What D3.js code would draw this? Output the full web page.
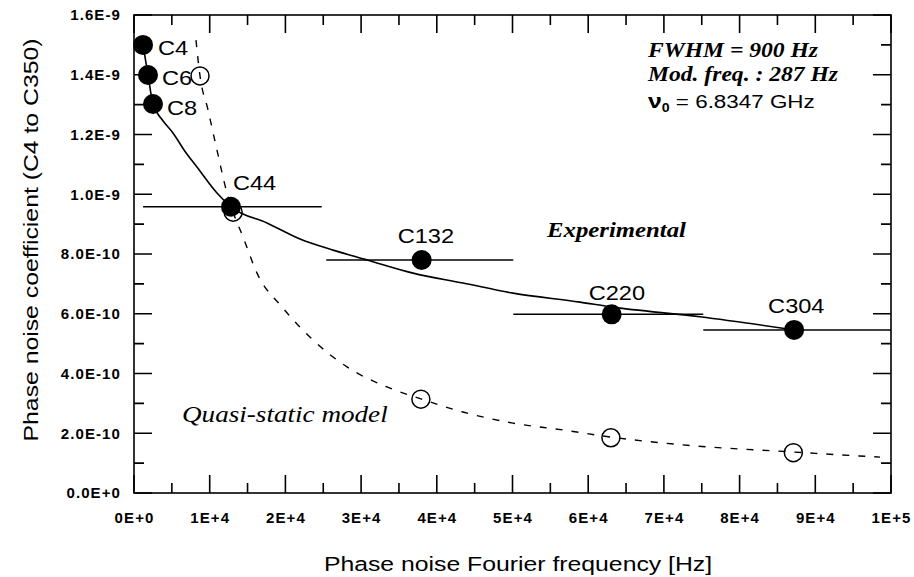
<!DOCTYPE html>
<html>
<head>
<meta charset="utf-8">
<script src="https://cdn.jsdelivr.net/npm/d3@7"></script>
<style>
  body { margin: 0; background: #fff; }
</style>
</head>
<body>
<div class="curr-graff"></div>
<script>
// experimental points (filled)
const expLabels = ["C4", "C6", "C8", "C44", "C132", "C220", "C304"];
const expX = [1190, 1850, 2510, 12810, 38000, 63100, 87200];
const expY = [1.500e-9, 1.399e-9, 1.302e-9, 0.958e-9, 0.780e-9, 0.598e-9, 0.546e-9];
const errLow = [null, null, null, 1200, 25400, 50100, 75200];
const errHigh = [null, null, null, 24800, 50100, 75200, 100000];

// quasi-static model points (open)
const modelX = [8720, 13100, 37900, 63000, 87100];
const modelY = [1.396e-9, 0.940e-9, 0.314e-9, 0.185e-9, 0.135e-9];

// fitted curve through experimental points (solid)
const fitX = [1190, 1850, 2510, 3700, 5150, 6700, 8320, 10960, 12810, 17570, 21930, 26290, 30780, 36860, 43460, 50070, 58920, 63010, 74770, 87190];
const fitY = [1.500e-9, 1.399e-9, 1.302e-9, 1.250e-9, 1.205e-9, 1.145e-9, 1.091e-9, 1.004e-9, 0.958e-9, 0.904e-9, 0.850e-9, 0.813e-9, 0.780e-9, 0.736e-9, 0.703e-9, 0.669e-9, 0.639e-9, 0.623e-9, 0.590e-9, 0.546e-9];

// quasi-static model curve (dashed)
const quasiX = [8190, 8720, 9780, 10960, 12290, 13080, 14400, 16250, 19680, 23650, 28140, 33420, 37910, 43460, 50070, 56670, 63010, 72520, 87190, 98550];
const quasiY = [1.516e-9, 1.396e-9, 1.282e-9, 1.148e-9, 1.004e-9, 0.941e-9, 0.857e-9, 0.736e-9, 0.619e-9, 0.512e-9, 0.422e-9, 0.355e-9, 0.315e-9, 0.271e-9, 0.234e-9, 0.211e-9, 0.187e-9, 0.161e-9, 0.137e-9, 0.120e-9];

// axis ticks
const xTicks = [0, 10000, 20000, 30000, 40000, 50000, 60000, 70000, 80000, 90000, 100000];
const xTickLabels = ["0E+0", "1E+4", "2E+4", "3E+4", "4E+4", "5E+4", "6E+4", "7E+4", "8E+4", "9E+4", "1E+5"];
const xMinor = [5000, 15000, 25000, 35000, 45000, 55000, 65000, 75000, 85000, 95000];
const yTicks = [0, 2e-10, 4e-10, 6e-10, 8e-10, 1.0e-9, 1.2e-9, 1.4e-9, 1.6e-9];
const yTickLabels = ["0.0E+0", "2.0E-10", "4.0E-10", "6.0E-10", "8.0E-10", "1.0E-9", "1.2E-9", "1.4E-9", "1.6E-9"];
const yMinor = [1e-10, 3e-10, 5e-10, 7e-10, 9e-10, 1.1e-9, 1.3e-9, 1.5e-9];

const width = 914, height = 577;
const mLeft = 134, mRight = 891, mTop = 15, mBottom = 493;
const sansFont = '"Liberation Sans", Arial, sans-serif';
const serifFont = '"Liberation Serif", "Times New Roman", serif';
const stretch = 1.18;

var svg = d3.select(".curr-graff")
    .append("svg")
    .attr("width", width)
    .attr("height", height)
    .style("display", "block");

svg.append("rect").attr("width", width).attr("height", height).attr("fill", "#fff");

var xScale = d3.scaleLinear().domain([0, 100000]).range([mLeft, mRight]);
var yScale = d3.scaleLinear().domain([0, 1.6e-9]).range([mBottom, mTop]);

// tick labels from d3 axes
var xAxisG = svg.append("g")
    .attr("transform", "translate(0," + mBottom + ")")
    .call(d3.axisBottom(xScale).tickValues(xTicks).tickSize(0).tickPadding(19)
        .tickFormat((d, i) => xTickLabels[i]));
var yAxisG = svg.append("g")
    .attr("transform", "translate(" + mLeft + ",0)")
    .call(d3.axisLeft(yScale).tickValues(yTicks).tickSize(0).tickPadding(13)
        .tickFormat((d, i) => yTickLabels[i]));

[xAxisG, yAxisG].forEach(g => {
    g.select(".domain").remove();
    g.selectAll(".tick line").remove();
    g.selectAll(".tick text")
        .attr("fill", "#000")
        .attr("font-family", sansFont)
        .attr("font-weight", "bold")
        .attr("font-size", 15)
        .attr("letter-spacing", 1.1);
});

// inward tick marks on all four sides, one path
var tickPath = d3.path();
function xMarks(vals, len) {
    vals.forEach(d => {
        tickPath.moveTo(xScale(d), mBottom);
        tickPath.lineTo(xScale(d), mBottom - len);
        tickPath.moveTo(xScale(d), mTop);
        tickPath.lineTo(xScale(d), mTop + len);
    });
}
function yMarks(vals, len) {
    vals.forEach(d => {
        tickPath.moveTo(mLeft, yScale(d));
        tickPath.lineTo(mLeft + len, yScale(d));
        tickPath.moveTo(mRight, yScale(d));
        tickPath.lineTo(mRight - len, yScale(d));
    });
}
xMarks(xTicks, 18);
xMarks(xMinor, 10);
yMarks(yTicks, 18);
yMarks(yMinor, 10);

svg.append("path")
    .attr("class", "tickmarks")
    .attr("d", tickPath.toString())
    .attr("fill", "none")
    .attr("stroke", "#000")
    .attr("stroke-width", 1.6);

// frame
svg.append("rect")
    .attr("x", mLeft).attr("y", mTop)
    .attr("width", mRight - mLeft).attr("height", mBottom - mTop)
    .attr("fill", "none")
    .attr("stroke", "#000")
    .attr("stroke-width", 1.6);

// curves
var lineGen = (xs) => d3.line()
    .x((d, i) => xScale(xs[i]))
    .y(d => yScale(d))
    .curve(d3.curveMonotoneX);

svg.append("path")
    .datum(quasiY)
    .attr("fill", "none")
    .attr("stroke", "#000")
    .attr("stroke-width", 1.4)
    .attr("stroke-dasharray", "7,9")
    .attr("d", lineGen(quasiX));

svg.append("path")
    .datum(fitY)
    .attr("fill", "none")
    .attr("stroke", "#000")
    .attr("stroke-width", 1.6)
    .attr("d", lineGen(fitX));

// horizontal error bars
svg.selectAll("line.err")
    .data(expY.map((d, i) => i).filter(i => errLow[i] !== null))
    .enter()
    .append("line")
    .attr("class", "err")
    .attr("x1", i => xScale(errLow[i]))
    .attr("x2", i => xScale(errHigh[i]))
    .attr("y1", i => yScale(expY[i]))
    .attr("y2", i => yScale(expY[i]))
    .attr("stroke", "#000")
    .attr("stroke-width", 1.5);

// open circles
svg.selectAll("circle.model")
    .data(modelY)
    .enter()
    .append("circle")
    .attr("class", "model")
    .attr("cx", (d, i) => xScale(modelX[i]))
    .attr("cy", d => yScale(d))
    .attr("r", 9)
    .attr("fill", "none")
    .attr("stroke", "#000")
    .attr("stroke-width", 1.5);

// filled circles
svg.selectAll("circle.exp")
    .data(expY)
    .enter()
    .append("circle")
    .attr("class", "exp")
    .attr("cx", (d, i) => xScale(expX[i]))
    .attr("cy", d => yScale(d))
    .attr("r", 10)
    .attr("fill", "#000");

// point labels: first three to the right, others above
const labelShift = [[15, 10], [14, 10], [14, 11], [2, -17], [-24, -17], [-23, -14], [-26, -17]];
svg.selectAll("text.lab")
    .data(expLabels)
    .enter()
    .append("text")
    .attr("class", "lab")
    .attr("transform", (d, i) => "translate(" + (xScale(expX[i]) + labelShift[i][0]) + "," +
        (yScale(expY[i]) + labelShift[i][1]) + ") scale(" + stretch + ",1)")
    .attr("font-family", sansFont)
    .attr("font-size", 20)
    .text(d => d);

function addText(str, x, y, font, size, style, weight) {
    return svg.append("text")
        .attr("transform", "translate(" + x + "," + y + ") scale(" + stretch + ",1)")
        .attr("font-family", font)
        .attr("font-size", size)
        .attr("font-style", style)
        .attr("font-weight", weight)
        .text(str);
}

addText("FWHM = 900 Hz", 648, 57, serifFont, 20, "italic", "bold");
addText("Mod. freq. : 287 Hz", 648, 81, serifFont, 20, "italic", "bold");
addText("Experimental", 547, 237, serifFont, 21, "italic", "bold");
addText("Quasi-static model", 182, 422, serifFont, 23, "italic", "normal");

var nu = svg.append("text")
    .attr("transform", "translate(648,108) scale(" + stretch + ",1)")
    .attr("font-family", sansFont)
    .attr("font-size", 19);
nu.append("tspan").attr("font-weight", "bold").attr("font-size", 21).text("ν");
nu.append("tspan").attr("font-weight", "bold").attr("font-size", 12).attr("dy", 4).text("0");
nu.append("tspan").attr("dy", -4).text(" = 6.8347 GHz");

// axis titles
svg.append("text")
    .attr("transform", "translate(518,571) scale(" + stretch + ",1)")
    .attr("text-anchor", "middle")
    .attr("font-family", sansFont)
    .attr("font-size", 21)
    .text("Phase noise Fourier frequency [Hz]");

svg.append("text")
    .attr("transform", "translate(38,240) rotate(-90) scale(" + stretch + ",1)")
    .attr("text-anchor", "middle")
    .attr("font-family", sansFont)
    .attr("font-size", 21)
    .text("Phase noise coefficient (C4 to C350)");
</script>
</body>
</html>
